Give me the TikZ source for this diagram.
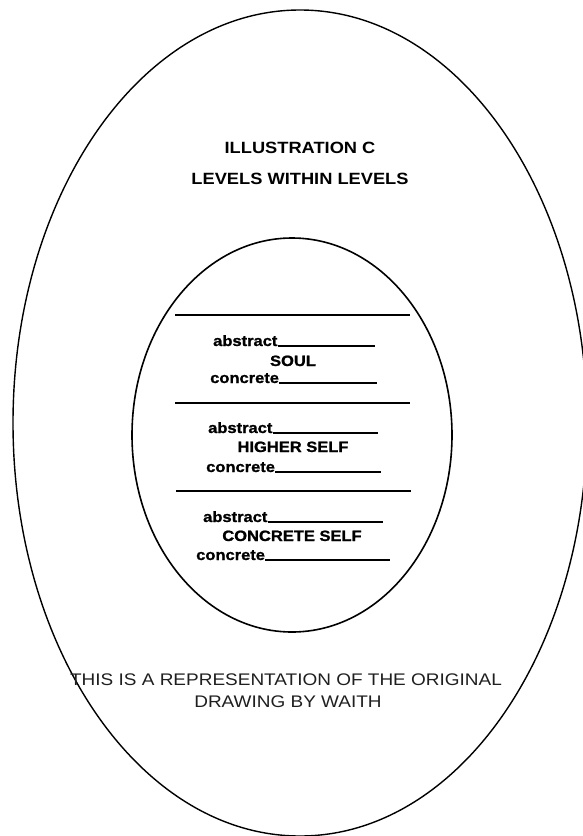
\documentclass[tikz,border=0pt]{standalone}
\usepackage{fontspec}
\usetikzlibrary{shapes.geometric}
\newfontfamily\wfont[FakeStretch=1.12]{Liberation Sans}
\newfontfamily\nfont[FakeStretch=1.13]{Liberation Sans}
\newfontfamily\lfont[FakeStretch=1.1,FakeBold=1.2]{Liberation Sans}
\tikzset{
  ring/.style={draw, ellipse, inner sep=0pt, line width=1.4pt},
  title/.style={anchor=base, inner sep=0pt, font=\wfont\bfseries\fontsize{16.3}{19}\selectfont},
  note/.style={anchor=base, inner sep=0pt, font=\nfont\fontsize{16.8}{19}\selectfont, text=black!88},
  word/.style={anchor=base west, inner sep=0pt, font=\lfont\bfseries\fontsize{15}{18}\selectfont},
  level/.style={anchor=base, inner sep=0pt, font=\lfont\bfseries\fontsize{15}{18}\selectfont},
  uline/.style={line width=1.5pt},
  divider/.style={line width=2.2pt}
}
\begin{document}
\begin{tikzpicture}[x=1pt,y=-1pt]
\useasboundingbox (0,0) rectangle (583,836);
\node[ring, minimum width=574pt, minimum height=826pt] (outer) at (300,423) {};
\node[ring, minimum width=320pt, minimum height=394pt, line width=1.6pt] (inner) at (292,435) {};

\node[title] (t1) at (300,153) {ILLUSTRATION C};
\node[title] (t2) at (300,184) {LEVELS WITHIN LEVELS};

% dividers
\coordinate (d1a) at (175,315); \coordinate (d1b) at (410,315);
\coordinate (d2a) at (175,403); \coordinate (d2b) at (410,403);
\coordinate (d3a) at (176,491); \coordinate (d3b) at (411,491);
\draw[divider] (d1a) -- (d1b);
\draw[divider] (d2a) -- (d2b);
\draw[divider] (d3a) -- (d3b);

% block 1
\node[word] (a1) at (213,346) {abstract};
\coordinate (ea1) at (375,346);
\draw[uline] (a1.base east) -- (ea1);
\node[level] (soul) at (293,366) {SOUL};
\node[word] (c1) at (210,383) {concrete};
\coordinate (ec1) at (377,383);
\draw[uline] (c1.base east) -- (ec1);

% block 2
\node[word] (a2) at (208,433) {abstract};
\coordinate (ea2) at (378,433);
\draw[uline] (a2.base east) -- (ea2);
\node[level] (higher) at (293,452) {HIGHER SELF};
\node[word] (c2) at (206,472) {concrete};
\coordinate (ec2) at (381,472);
\draw[uline] (c2.base east) -- (ec2);

% block 3
\node[word] (a3) at (203,522) {abstract};
\coordinate (ea3) at (383,522);
\draw[uline] (a3.base east) -- (ea3);
\node[level] (concself) at (292,541) {CONCRETE SELF};
\node[word] (c3) at (196,560) {concrete};
\coordinate (ec3) at (390,560);
\draw[uline] (c3.base east) -- (ec3);

\node[note] (n1) at (286,685) {THIS IS A REPRESENTATION OF THE ORIGINAL};
\node[note] (n2) at (288,707) {DRAWING BY WAITH};
\end{tikzpicture}
\end{document}
